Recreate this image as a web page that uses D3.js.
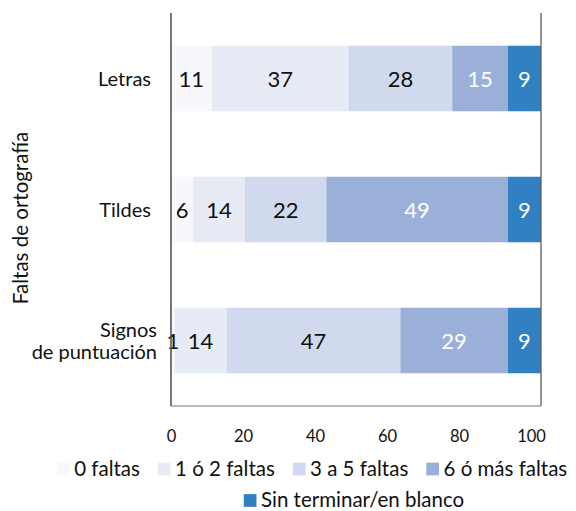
<!DOCTYPE html>
<html>
<head>
<meta charset="utf-8">
<script src="https://cdn.jsdelivr.net/npm/d3@7"></script>
<style>
  html, body { margin: 0; padding: 0; background: #fff; }
  svg { display: block; font-family: Lato, "Noto Sans", sans-serif; }
</style>
</head>
<body>
<svg id="chart" width="576" height="511"></svg>
<script>
// Categories (top to bottom) and their display lines
const categories = ["Letras", "Tildes", "Signos de puntuación"];
const categoryLines = [["Letras"], ["Tildes"], ["Signos", "de puntuación"]];

// Series: share of answers per number of spelling mistakes
const seriesNames = ["0 faltas", "1 ó 2 faltas", "3 a 5 faltas", "6 ó más faltas", "Sin terminar/en blanco"];
const ceroFaltas      = [11, 6, 1];
const unaDosFaltas    = [37, 14, 14];
const tresCincoFaltas = [28, 22, 47];
const seisMasFaltas   = [15, 49, 29];
const sinTerminar     = [9, 9, 9];

const xTicks = [0, 20, 40, 60, 80, 100];
const colors = ["#f7f8fb", "#e7ebf5", "#d0d9ed", "#9ab0d9", "#3180c3"];
const labelColors = ["#111", "#111", "#111", "#fff", "#fff"];

const rows = categories.map((c, i) => ({
  category: c,
  "0 faltas": ceroFaltas[i],
  "1 ó 2 faltas": unaDosFaltas[i],
  "3 a 5 faltas": tresCincoFaltas[i],
  "6 ó más faltas": seisMasFaltas[i],
  "Sin terminar/en blanco": sinTerminar[i]
}));

const svg = d3.select("#chart");
const plot = { left: 171, right: 541, top: 13, bottom: 406 };

const x = d3.scaleLinear().domain([0, 100]).range([plot.left, plot.right]);
// Tick labels sit on a slightly shorter run than the bars
const xLabels = d3.scaleLinear().domain([0, 100]).range([plot.left, plot.right - 10]);
const y = d3.scaleBand().domain(categories).range([plot.top, plot.bottom])
  .paddingInner(0.5).paddingOuter(0.25);

const stack = d3.stack().keys(seriesNames)(rows);

// Stacked bars
const layers = svg.append("g").selectAll("g").data(stack).join("g")
  .attr("fill", (d, i) => colors[i]);

layers.selectAll("rect").data(d => d).join("rect")
  .attr("x", d => x(d[0]))
  .attr("y", d => y(d.data.category))
  .attr("width", d => x(d[1]) - x(d[0]))
  .attr("height", y.bandwidth());

// Value labels centred in each segment
stack.forEach((layer, i) => {
  svg.append("g").selectAll("text").data(layer).join("text")
    .attr("x", d => (x(d[0]) + x(d[1])) / 2)
    .attr("y", d => y(d.data.category) + y.bandwidth() / 2 + 8)
    .attr("text-anchor", "middle")
    .attr("font-size", 22)
    .attr("fill", labelColors[i])
    .text(d => d[1] - d[0]);
});

// Plot frame (left, right and bottom sides)
const frame = svg.append("g").attr("fill", "none");
frame.append("line")
  .attr("x1", plot.left).attr("x2", plot.left)
  .attr("y1", plot.top).attr("y2", plot.bottom)
  .attr("stroke", "#555").attr("stroke-width", 1.6);
frame.append("line")
  .attr("x1", plot.right).attr("x2", plot.right)
  .attr("y1", plot.top).attr("y2", plot.bottom)
  .attr("stroke", "#666").attr("stroke-width", 1.4);
frame.append("line")
  .attr("x1", plot.left).attr("x2", plot.right)
  .attr("y1", plot.bottom).attr("y2", plot.bottom)
  .attr("stroke", "#777").attr("stroke-width", 1.2);

// X axis tick labels
const xAxis = svg.append("g")
  .attr("transform", `translate(0,${plot.bottom})`)
  .call(d3.axisBottom(xLabels).tickValues(xTicks).tickSize(0).tickPadding(24));
xAxis.select(".domain").remove();
xAxis.selectAll("text").attr("font-size", 16.5).attr("fill", "#111")
  .attr("font-family", "Lato, 'Noto Sans', sans-serif");

// Category labels
const yAxis = svg.append("g")
  .attr("transform", `translate(${plot.left},0)`)
  .call(d3.axisLeft(y).tickSize(0).tickFormat(""));
yAxis.select(".domain").remove();
yAxis.selectAll(".tick").each(function(d, i) {
  const lines = categoryLines[i];
  const lh = 22;
  const t = d3.select(this).append("text")
    .attr("text-anchor", "end")
    .attr("font-size", 20)
    .attr("fill", "#111")
    .attr("font-family", "Lato, 'Noto Sans', sans-serif");
  lines.forEach((ln, k) => {
    t.append("tspan")
      .attr("x", lines.length > 1 ? -14 : -20)
      .attr("y", (k - (lines.length - 1) / 2) * lh + 7)
      .text(ln);
  });
});

// Axis title
svg.append("text")
  .attr("transform", "translate(28,218) rotate(-90)")
  .attr("text-anchor", "middle")
  .attr("font-size", 20.5)
  .attr("fill", "#111")
  .text("Faltas de ortografía");

// Legend: two rows
const legendRows = [
  { items: [0, 1, 2, 3], start: 57, y: 469 },
  { items: [4], center: 354, y: 500.5 }
];
const sw = 12.7, gapText = 4.5, gapItem = 18;
legendRows.forEach(row => {
  const g = svg.append("g");
  const entries = row.items.map(i => {
    const e = g.append("g");
    e.append("rect").attr("width", sw).attr("height", sw)
      .attr("y", row.y - sw / 2).attr("fill", colors[i]);
    const t = e.append("text").attr("x", sw + gapText).attr("y", row.y + 6.5)
      .attr("font-size", 20.5).attr("fill", "#111").text(seriesNames[i]);
    return { e, w: sw + gapText + t.node().getComputedTextLength() };
  });
  const total = d3.sum(entries, d => d.w) + gapItem * (entries.length - 1);
  let cx = row.start !== undefined ? row.start : row.center - total / 2;
  entries.forEach(d => {
    d.e.attr("transform", `translate(${cx},0)`);
    cx += d.w + gapItem;
  });
});
</script>
</body>
</html>
